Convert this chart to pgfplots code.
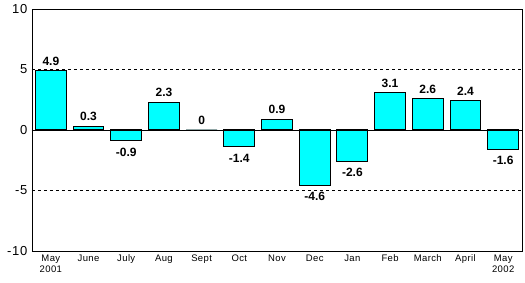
\documentclass[border=0pt]{standalone}
\usepackage{pgfplots}
\pgfplotsset{compat=1.18}
\usepackage{fontspec}
\setmainfont{Liberation Sans}
\definecolor{barcyan}{RGB}{0,255,255}
\begin{document}
\begin{tikzpicture}[x=1pt,y=1pt]
\begin{axis}[
  at={(0,0)}, anchor=south west,
  scale only axis, width=490pt, height=242pt,
  xmin=-0.5, xmax=12.5, ymin=-10, ymax=10,
  ytick={-10,-5,0,5,10}, yticklabels={-10,-5,0,5,10},
  xtick={0,...,12},
  xticklabels={May\\2001,June,July,Aug,Sept,Oct,Nov,Dec,Jan,Feb,March,April,May\\2002},
  xticklabel style={align=center, font=\addfontfeature{LetterSpace=4}\fontsize{9.5}{11.5}\selectfont, anchor=north},
  yticklabel style={font=\addfontfeature{LetterSpace=6}\fontsize{13}{15}\selectfont, xshift=-1pt},
  major tick length=0pt,
  axis line style={black, line width=0.8pt},
  ymajorgrids, grid style={black, dash pattern=on 3pt off 3pt, line width=0.6pt},
  ybar, bar width=0.82, bar shift=0pt,
  nodes near coords, point meta=explicit symbolic,
  every node near coord/.append style={font=\bfseries\fontsize{12}{14}\selectfont, black},
  clip=false,
]
% non-negative values: label above
\addplot[fill=barcyan, draw=black, line width=1pt,
  nodes near coords style={anchor=south, yshift=1.5pt}] table[meta=label] {
x y label
0 4.9 4.9
1 0.3 0.3
3 2.3 2.3
4 0 0
6 0.9 0.9
9 3.1 3.1
10 2.6 2.6
11 2.4 2.4
};
% negative values: label below
\addplot[fill=barcyan, draw=black, line width=1pt,
  nodes near coords style={anchor=north, yshift=-3pt}] table[meta=label] {
x y label
2 -0.9 -0.9
5 -1.4 -1.4
7 -4.6 -4.6
8 -2.6 -2.6
12 -1.6 -1.6
};
\draw[black, line width=0.8pt] (axis cs:-0.5,0) -- (axis cs:12.5,0);
\end{axis}
\pgfresetboundingbox
\path[use as bounding box] (-32pt,-32pt) rectangle (493pt,251pt);
\end{tikzpicture}
\end{document}
